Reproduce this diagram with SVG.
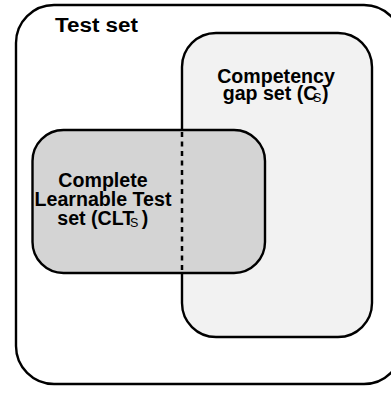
<svg xmlns="http://www.w3.org/2000/svg" width="391" height="393" viewBox="0 0 391 393">
  <style>
    .box { stroke: #000; stroke-width: 2.4; }
    .lbl { font-family: "Liberation Sans", Arial, sans-serif; font-weight: bold; font-size: 19.6px; fill: #000; }
    .sub { font-family: "Liberation Sans", Arial, sans-serif; font-weight: normal; font-size: 12.5px; fill: #000; }
    .dash { stroke: #000; stroke-width: 2.5; stroke-dasharray: 5 4.5; fill: none; }
  </style>
  <rect width="391" height="393" fill="#ffffff"/>
  <g id="test-set">
    <rect class="box" x="16" y="5" width="386" height="379" rx="38" ry="38" fill="#ffffff"/>
    <text class="lbl" x="55" y="31.5" textLength="83" lengthAdjust="spacingAndGlyphs">Test set</text>
  </g>
  <g id="competency-gap-set">
    <rect class="box" x="182" y="33" width="190" height="304" rx="34" ry="34" fill="#f2f2f2"/>
    <text class="lbl" x="276" y="82.5" text-anchor="middle">Competency</text>
    <text class="lbl" x="222.7" y="100">gap set (C</text>
    <text class="sub" x="313" y="101.5">S</text>
    <text class="lbl" x="322" y="100">)</text>
  </g>
  <g id="complete-learnable-test-set">
    <rect class="box" x="32.5" y="130" width="232.5" height="143" rx="31" ry="31" fill="#d4d4d4"/>
    <text class="lbl" x="103" y="186.7" text-anchor="middle">Complete</text>
    <text class="lbl" x="103" y="206" text-anchor="middle">Learnable Test</text>
    <text class="lbl" x="57.3" y="225">set (CLT</text>
    <text class="sub" x="130" y="226.5">S</text>
    <text class="lbl" x="141.8" y="225">)</text>
  </g>
  <g id="connectors">
    <line class="dash" x1="182" y1="132" x2="182" y2="272"/>
  </g>
</svg>
